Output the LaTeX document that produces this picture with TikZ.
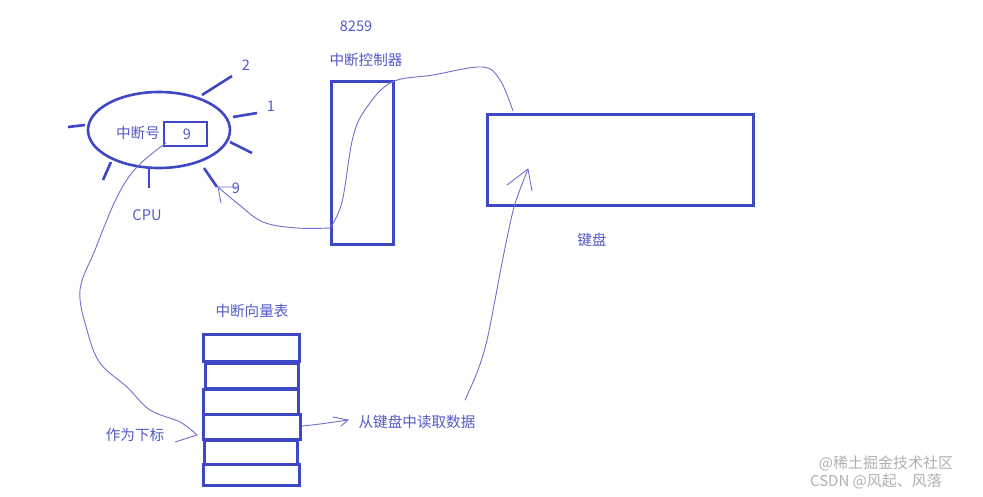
\documentclass[tikz,border=0pt]{standalone}
\usepackage{fontspec}
\setmainfont{Noto Sans CJK SC}
\usetikzlibrary{shapes.geometric}
\definecolor{boxblue}{RGB}{62,72,196}
\definecolor{txtblue}{RGB}{84,90,200}
\definecolor{penblue}{RGB}{112,112,205}
\definecolor{wmgray}{RGB}{150,150,150}
\tikzset{
  txt/.style={text=txtblue, font=\fontsize{14.6}{16}\selectfont, inner sep=0pt},
  thick box/.style={draw=boxblue, line width=2.6pt, inner sep=0pt},
  ray/.style={draw=boxblue, line width=2.6pt},
  pen/.style={draw=penblue, line width=0.9pt, line cap=round, line join=round},
  wm/.style={text=wmgray, opacity=0.75, font=\fontsize{15}{16}\selectfont, inner sep=0pt}
}
\begin{document}
\begin{tikzpicture}[x=1pt,y=-1pt]
\useasboundingbox (0,0) rectangle (983,496);
\fill[white] (0,0) rectangle (983,496);

% CPU
\node[thick box, ellipse, minimum width=142pt, minimum height=76pt] (cpu) at (159,130) {};
\node[thick box, minimum width=43pt, minimum height=24pt] (num) at (185.5,134) {};
\node[txt] (nine) at (187,134) {9};
\node[txt] (zdh) at (138,133) {中断号};
\draw[ray] (68,127) -- (85,125);
\draw[ray] (202,95) -- (232,76);
\draw[ray] (233,117) -- (257,113);
\draw[ray] (230,142) -- (252,153);
\draw[ray] (204,168) -- (217,187);
\draw[ray] (149,169) -- (149,188);
\draw[ray] (111,162) -- (103,180);
\node[txt] (l2) at (246,65) {2};
\node[txt] (l1) at (271,106) {1};
\node[txt] (l9) at (236,188) {9};
\node[txt] (lcpu) at (147,215) {CPU};

% controller
\node[txt] (l8259) at (356,26) {8259};
\node[txt] (lctrl) at (366,60) {中断控制器};
\node[thick box, minimum width=62pt, minimum height=163pt, anchor=north west] (ctrl) at (330,80) {};

% keyboard
\node[thick box, minimum width=266pt, minimum height=91pt, anchor=north west] (kbd) at (486,113) {};
\node[txt] (lkbd) at (592,240) {键盘};

% vector table
\node[txt] (lvec) at (252,311) {中断向量表};
\node[thick box, minimum width=96pt, minimum height=27pt, anchor=north west] (r1) at (202,333) {};
\node[thick box, minimum width=93pt, minimum height=25pt, anchor=north west] (r2) at (204,362) {};
\node[thick box, minimum width=95pt, minimum height=25pt, anchor=north west] (r3) at (202,388) {};
\node[thick box, minimum width=97pt, minimum height=25pt, anchor=north west] (r4) at (202,413) {};
\node[thick box, minimum width=93pt, minimum height=24pt, anchor=north west] (r5) at (203,439) {};
\node[thick box, minimum width=96pt, minimum height=21pt, anchor=north west] (r6) at (202,463) {};
\node[txt] (lidx) at (135,435) {作为下标};
\node[txt] (lread) at (417,422) {从键盘中读取数据};

% connectors (hand drawn pen strokes)
\coordinate (c1s) at (166,143);
\coordinate (c1e) at (197,435);
\draw[pen] plot[smooth, tension=0.6] coordinates {(c1s) (137,167) (117,197) (95,250) (80,290) (87,330) (100,363) (127,387) (150,410) (180,422) (c1e)};
\draw[pen] (175,442) -- (c1e);

\coordinate (c2s) at (218,187);
\coordinate (c2e) at (330,228);
\draw[pen] plot[smooth, tension=0.6] coordinates {(c2s) (237,203) (263,222) (297,228) (c2e)};
\draw[pen] (221,203) -- (c2s) -- (238,187);

\coordinate (c3e) at (513,111);
\draw[pen] plot[smooth, tension=0.6] coordinates {(c2e) (342,202) (353,137) (367,107) (392,82) (433,75) (482,67) (500,80) (c3e)};

\coordinate (c4s) at (302,426);
\coordinate (c4e) at (348,420);
\draw[pen] plot[smooth, tension=0.6] coordinates {(c4s) (320,424) (c4e)};
\draw[pen] (333,417) -- (c4e) -- (341,426);

\coordinate (c5s) at (465,400);
\coordinate (c5e) at (528,169);
\draw[pen] plot[smooth, tension=0.6] coordinates {(c5s) (478,370) (487,340) (495,300) (503,258) (512,215) (518,195) (c5e)};
\draw[pen] (507,185) -- (c5e) -- (532,191);

% watermark
\node[wm] (wm1) at (886,463) {@稀土掘金技术社区};
\node[wm] (wm2) at (876,481) {CSDN @风起、风落};
\end{tikzpicture}
\end{document}
